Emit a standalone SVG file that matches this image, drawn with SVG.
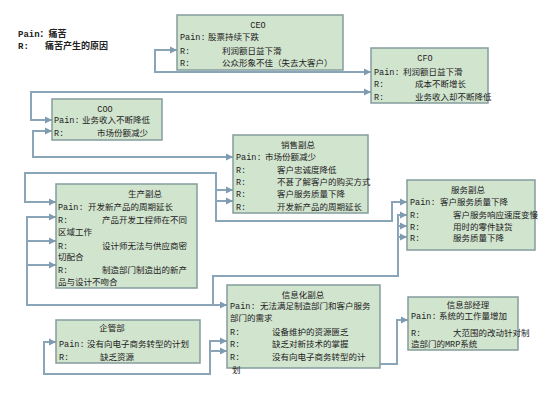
<svg xmlns="http://www.w3.org/2000/svg" width="550" height="406" viewBox="0 0 550 406">
<style>
text{font-family:"Liberation Mono","Noto Sans CJK SC",monospace;font-size:8.5px;fill:#222}
.t{text-anchor:middle}
.lg{font-weight:bold;font-size:9px}
.box{fill:#d1e4ce;stroke:#849c9d;stroke-width:1.5}
.c{fill:none;stroke:#8aa4b8;stroke-width:2}
.b{marker-start:url(#as);marker-end:url(#ae)}
.e{marker-end:url(#ae)}
.s{marker-start:url(#as)}
</style>
<defs>
<marker id="ae" markerUnits="userSpaceOnUse" markerWidth="8" markerHeight="8" refX="7" refY="4" orient="auto"><path d="M0,0.5 L7,4 L0,7.5 z" fill="#7f9bb0"/></marker>
<marker id="as" markerUnits="userSpaceOnUse" markerWidth="8" markerHeight="8" refX="7" refY="4" orient="auto-start-reverse"><path d="M0,0.5 L7,4 L0,7.5 z" fill="#7f9bb0"/></marker>
</defs>
<rect width="550" height="406" fill="#fff"/>
<g id="legend">
<text class="lg" x="18" y="37">Pain：痛苦</text>
<text class="lg" x="18" y="49">R:<tspan x="45">痛苦产生的原因</tspan></text>
</g>
<g id="connectors">
<path class="c b" d="M371 72 H155 V50 H177"/>
<path class="c b" d="M371 92 H31 V120 H52"/>
<path class="c b" d="M52 131 H33 V157 H233"/>
<path class="c b" d="M233 190 H216 V221 H392 V202 H407"/>
<path class="c b" d="M233 201 H216 V173 H25 V202 H56"/>
<path class="c b" d="M56 217 H27 V305 H227"/>
<path class="c e" d="M27 241 H56"/>
<path class="c e" d="M27 265 H56"/>
<path class="c s" d="M407 215 H398 V276 H213 V305"/>
<path class="c e" d="M398 226 H407"/>
<path class="c e" d="M398 237 H407"/>
<path class="c e" d="M380 364 H397 V320 H408"/>
<path class="c b" d="M227 341 H210 V374 H44 V342 H56"/>
<path class="c e" d="M210 351 H227"/>
</g>
<g id="ceo">
<rect class="box" x="177" y="15" width="166" height="55"/>
<text class="t" x="258" y="28">CEO</text>
<text x="180" y="40">Pain:<tspan x="208">股票持续下跌</tspan></text>
<text x="180" y="54">R:<tspan x="222">利润额日益下滑</tspan></text>
<text x="180" y="66">R:<tspan x="222">公众形象不佳（失去大客户）</tspan></text>
</g>
<g id="cfo">
<rect class="box" x="371" y="48" width="117" height="55"/>
<text class="t" x="425" y="61">CFO</text>
<text x="374" y="75">Pain:<tspan x="403">利润额日益下滑</tspan></text>
<text x="374" y="87">R:<tspan x="415">成本不断增长</tspan></text>
<text x="374" y="100">R:<tspan x="415">业务收入却不断降低</tspan></text>
</g>
<g id="coo">
<rect class="box" x="52" y="99" width="110" height="41"/>
<text class="t" x="105" y="112">COO</text>
<text x="54" y="123">Pain:<tspan x="82">业务收入不断降低</tspan></text>
<text x="54" y="136">R:<tspan x="97">市场份额减少</tspan></text>
</g>
<g id="sales">
<rect class="box" x="233" y="135" width="135" height="78"/>
<text class="t" x="298" y="148">销售副总</text>
<text x="236" y="160">Pain:<tspan x="265">市场份额减少</tspan></text>
<text x="236" y="173">R:<tspan x="277">客户忠诚度降低</tspan></text>
<text x="236" y="185">R:<tspan x="277">不甚了解客户的购买方式</tspan></text>
<text x="236" y="197">R:<tspan x="277">客户服务质量下降</tspan></text>
<text x="236" y="210">R:<tspan x="277">开发新产品的周期延长</tspan></text>
</g>
<g id="service">
<rect class="box" x="407" y="180" width="128" height="70"/>
<text class="t" x="468" y="193">服务副总</text>
<text x="410" y="205">Pain:<tspan x="440">客户服务质量下降</tspan></text>
<text x="410" y="218">R:<tspan x="453">客户服务响应速度变慢</tspan></text>
<text x="410" y="230">R:<tspan x="453">用时的零件缺货</tspan></text>
<text x="410" y="241">R:<tspan x="453">服务质量下降</tspan></text>
</g>
<g id="production">
<rect class="box" x="56" y="184" width="141" height="104"/>
<text class="t" x="145" y="197">生产副总</text>
<text x="58" y="210">Pain:<tspan x="88">开发新产品的周期延长</tspan></text>
<text x="58" y="223">R:<tspan x="102">产品开发工程师在不同</tspan></text>
<text x="58" y="235">区域工作</text>
<text x="58" y="249">R:<tspan x="102">设计师无法与供应商密</tspan></text>
<text x="58" y="260">切配合</text>
<text x="58" y="273">R:<tspan x="102">制造部门制造出的新产</tspan></text>
<text x="58" y="285">品与设计不吻合</text>
</g>
<g id="it-vp">
<rect class="box" x="227" y="285" width="153" height="83"/>
<text class="t" x="303" y="298">信息化副总</text>
<text x="230" y="309">Pain:<tspan x="260">无法满足制造部门和客户服务</tspan></text>
<text x="230" y="321">部门的需求</text>
<text x="230" y="335">R:<tspan x="272">设备维护的资源匮乏</tspan></text>
<text x="230" y="347">R:<tspan x="272">缺乏对新技术的掌握</tspan></text>
<text x="230" y="360">R:<tspan x="272">没有向电子商务转型的计</tspan></text>
<text x="232" y="373">划</text>
</g>
<g id="mgmt">
<rect class="box" x="56" y="320" width="144" height="43"/>
<text class="t" x="112" y="331">企管部</text>
<text x="59" y="347">Pain:<tspan x="87">没有向电子商务转型的计划</tspan></text>
<text x="59" y="360">R:<tspan x="100">缺乏资源</tspan></text>
</g>
<g id="it-mgr">
<rect class="box" x="408" y="297" width="110" height="53"/>
<text class="t" x="468" y="308">信息部经理</text>
<text x="411" y="319">Pain:<tspan x="439">系统的工作量增加</tspan></text>
<text x="411" y="336">R:<tspan x="453">大范围的改动针对制</tspan></text>
<text x="411" y="347">造部门的MRP系统</text>
</g>
</svg>
